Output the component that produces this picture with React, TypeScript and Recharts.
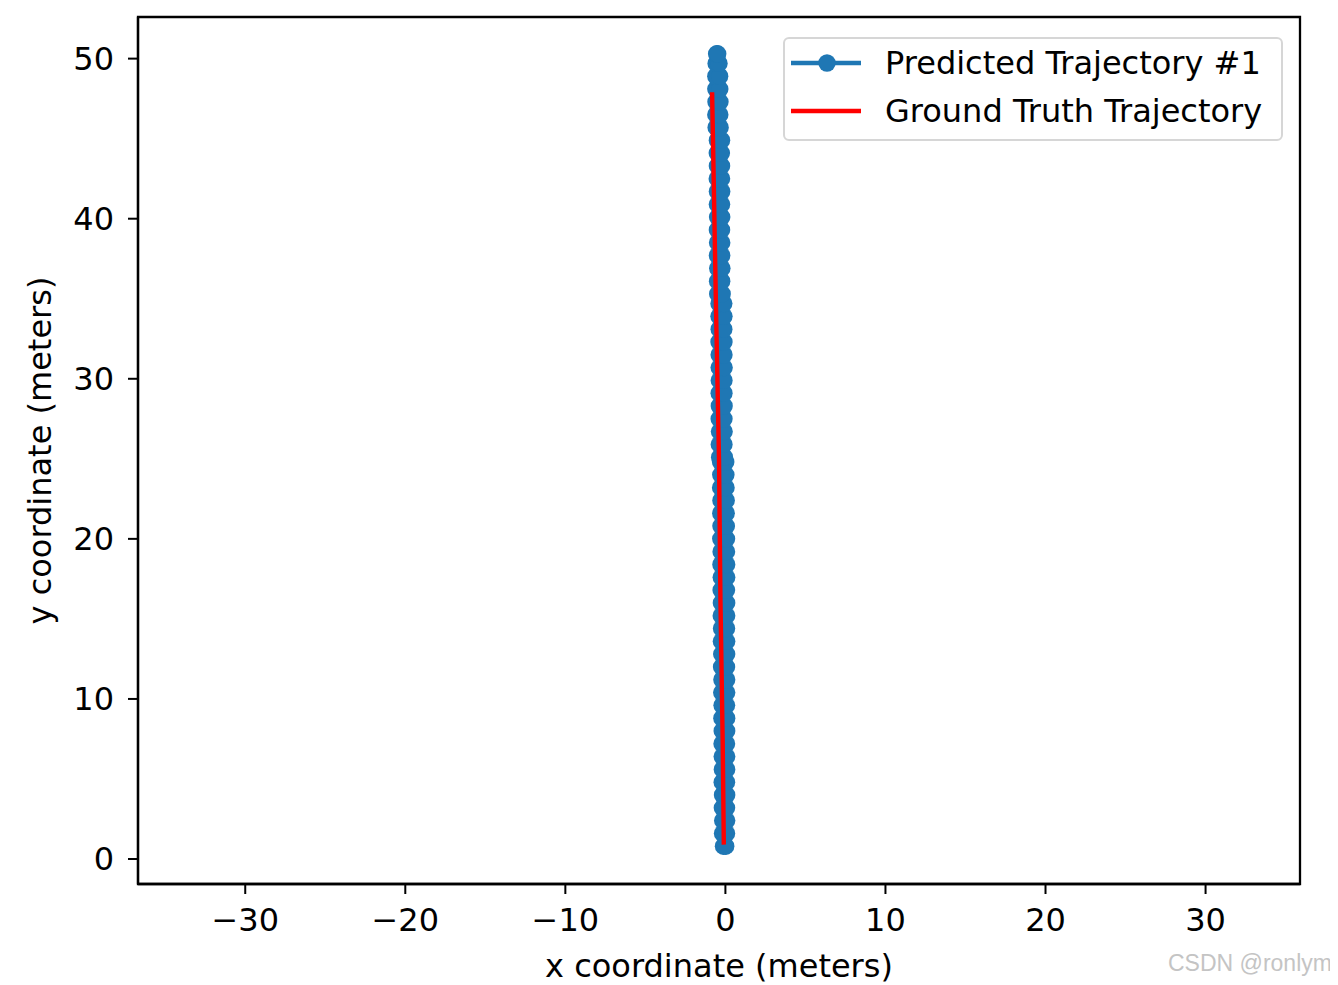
import React from "react";
import {
  ScatterChart, Scatter, XAxis, YAxis, ReferenceArea, Legend
} from "recharts";

// predicted trajectory, chunk by chunk: [y, x left, x right] in meters
const predSegA: [number, number, number][] = [
  [0.8, -0.12, 0.02], [1.6, -0.18, 0.07], [2.4, -0.17, 0.08], [3.2, -0.19, 0.07], [4.0, -0.18, 0.08],
  [4.8, -0.2, 0.07], [5.6, -0.19, 0.08], [6.4, -0.2, 0.08], [7.2, -0.21, 0.07], [8.0, -0.2, 0.08],
  [8.8, -0.22, 0.08], [9.6, -0.21, 0.07], [10.4, -0.23, 0.08], [11.2, -0.22, 0.08], [12.0, -0.24, 0.07],
  [12.8, -0.23, 0.08], [13.6, -0.25, 0.08], [14.4, -0.24, 0.07], [15.2, -0.26, 0.08], [16.0, -0.25, 0.08],
  [16.8, -0.27, 0.07], [17.6, -0.26, 0.08], [18.4, -0.28, 0.08], [19.2, -0.27, 0.07], [20.0, -0.29, 0.07],
  [20.8, -0.28, 0.06], [21.6, -0.29, 0.05], [22.4, -0.28, 0.05], [23.2, -0.3, 0.04], [24.0, -0.29, 0.03],
  [24.8, -0.3, 0.02],
];
const predSegB: [number, number, number][] = [
  [25.1, -0.36, -0.06], [25.9, -0.38, -0.09], [26.7, -0.37, -0.08], [27.5, -0.39, -0.09], [28.3, -0.38, -0.08],
  [29.1, -0.39, -0.09], [29.9, -0.38, -0.09], [30.7, -0.39, -0.08], [31.5, -0.39, -0.09], [32.3, -0.4, -0.09],
  [33.1, -0.39, -0.1], [33.9, -0.4, -0.09], [34.7, -0.4, -0.1],
];
const predSegC: [number, number, number][] = [
  [35.3, -0.48, -0.2], [36.1, -0.49, -0.23], [36.9, -0.48, -0.22], [37.7, -0.5, -0.23], [38.5, -0.49, -0.23],
  [39.3, -0.5, -0.24], [40.1, -0.49, -0.23], [40.9, -0.5, -0.24], [41.7, -0.5, -0.23], [42.5, -0.51, -0.24],
  [43.3, -0.5, -0.24], [44.1, -0.51, -0.25], [44.9, -0.5, -0.24],
];
const predSegD: [number, number, number][] = [
  [45.7, -0.58, -0.33], [46.5, -0.6, -0.35], [47.3, -0.59, -0.34], [48.1, -0.6, -0.35],
  [48.9, -0.6, -0.36], [49.7, -0.58, -0.4], [50.3, -0.55, -0.48],
];

// ground truth: [x, y]
const truth: [number, number][] = [
  [-0.1, 0.9], [-0.17, 7.4], [-0.31, 16.2], [-0.4, 25.0], [-0.58, 34.0], [-0.73, 42.4], [-0.83, 47.9],
];

const xTicks = [-30, -20, -10, 0, 10, 20, 30];
const yTicks = [0, 10, 20, 30, 40, 50];
const xDomain = [-36.7, 35.9];
const yDomain = [-1.56, 52.6];
const seriesNames = ["Predicted Trajectory #1", "Ground Truth Trajectory"];

const BLUE = "#1f77b4";
const RED = "#ff0000";
const FONT = "DejaVu Sans, sans-serif";
const FS = 32;

const predData = [...predSegA, ...predSegB, ...predSegC, ...predSegD].flatMap(([y, xl, xr]) => [
  { x: xl, y },
  { x: xr, y },
]);
const truthData = truth.map(([x, y]) => ({ x, y }));

const fmt = (v: number) => String(v).replace("-", "\u2212");

const Dot = (props: any) => (
  <circle cx={props.cx} cy={props.cy} r={8.7} fill={BLUE} />
);
const NoDot = () => <g />;

function MyLegend() {
  return (
    <div
      style={{
        width: 500, height: 104, boxSizing: "border-box",
        border: "2px solid #d6d6d6", borderRadius: 6, background: "rgba(255,255,255,0.8)",
        fontFamily: FONT, fontSize: FS, color: "#000", position: "relative",
      }}
    >
      {seriesNames.map((name, i) => (
        <div key={name} style={{ position: "absolute", left: 0, top: 6 + i * 48, height: 40, width: 500 }}>
          <svg width={80} height={40} style={{ position: "absolute", left: 0, top: 0 }}>
            <line x1={6} x2={76} y1={18} y2={18} stroke={i === 0 ? BLUE : RED} strokeWidth={4.4} />
            {i === 0 && <circle cx={42} cy={18} r={8.7} fill={BLUE} />}
          </svg>
          <span style={{ position: "absolute", left: 100, top: 0, whiteSpace: "nowrap", lineHeight: "36px" }}>
            {name}
          </span>
        </div>
      ))}
    </div>
  );
}

const YLabel = (props: any) => {
  const vb = props.viewBox;
  const cy = vb.y + vb.height / 2;
  return (
    <text x={32} y={cy} transform={`rotate(-90, 32, ${cy})`} textAnchor="middle"
      dominantBaseline="central" fontSize={FS} fontFamily={FONT} fill="#000">
      y coordinate (meters)
    </text>
  );
};

export default function App() {
  const tickStyle = { fontSize: FS, fontFamily: FONT, fill: "#000" };
  return (
    <div style={{ position: "relative", width: 1330, height: 977 }}>
      <ScatterChart width={1330} height={977} margin={{ top: 9, right: 38, left: 0, bottom: 0 }}>
        <XAxis
          type="number" dataKey="x" domain={xDomain} ticks={xTicks} allowDataOverflow
          tickFormatter={fmt} tick={tickStyle} tickSize={10} tickMargin={14}
          axisLine={{ stroke: "#000", strokeWidth: 2.3 }} tickLine={{ stroke: "#000", strokeWidth: 2 }}
          height={101}
          label={{ value: "x coordinate (meters)", position: "insideBottom", offset: 8,
            style: { fontSize: FS, fontFamily: FONT, fill: "#000" } }}
        />
        <YAxis
          type="number" dataKey="y" domain={yDomain} ticks={yTicks} allowDataOverflow
          tickFormatter={fmt} tick={tickStyle} tickSize={10} tickMargin={14}
          axisLine={{ stroke: "#000", strokeWidth: 2.3 }} tickLine={{ stroke: "#000", strokeWidth: 2 }}
          width={130}
          label={<YLabel />}
        />
        <ReferenceArea x1={xDomain[0]} x2={xDomain[1]} y1={yDomain[0]} y2={yDomain[1]}
          fill="none" fillOpacity={0} stroke="#000" strokeWidth={2.3} strokeOpacity={1} ifOverflow="visible" />
        <Scatter name={seriesNames[0]} data={predData} fill={BLUE} shape={Dot}
          line={{ stroke: BLUE, strokeWidth: 4.4 }} isAnimationActive={false} />
        <Scatter name={seriesNames[1]} data={truthData} fill={RED} shape={NoDot}
          line={{ stroke: RED, strokeWidth: 4.4 }} isAnimationActive={false} />
        <Legend layout="vertical" align="center" verticalAlign="middle" content={<MyLegend />}
          wrapperStyle={{ top: 29, left: 775, width: 500, height: 104 }} />
      </ScatterChart>
      <div style={{ position: "absolute", left: 1160, top: 942, fontFamily: "Liberation Sans, Arial, sans-serif",
        fontSize: 23, color: "#c4c4c4", whiteSpace: "nowrap" }}>
        CSDN @ronlym
      </div>
    </div>
  );
}
